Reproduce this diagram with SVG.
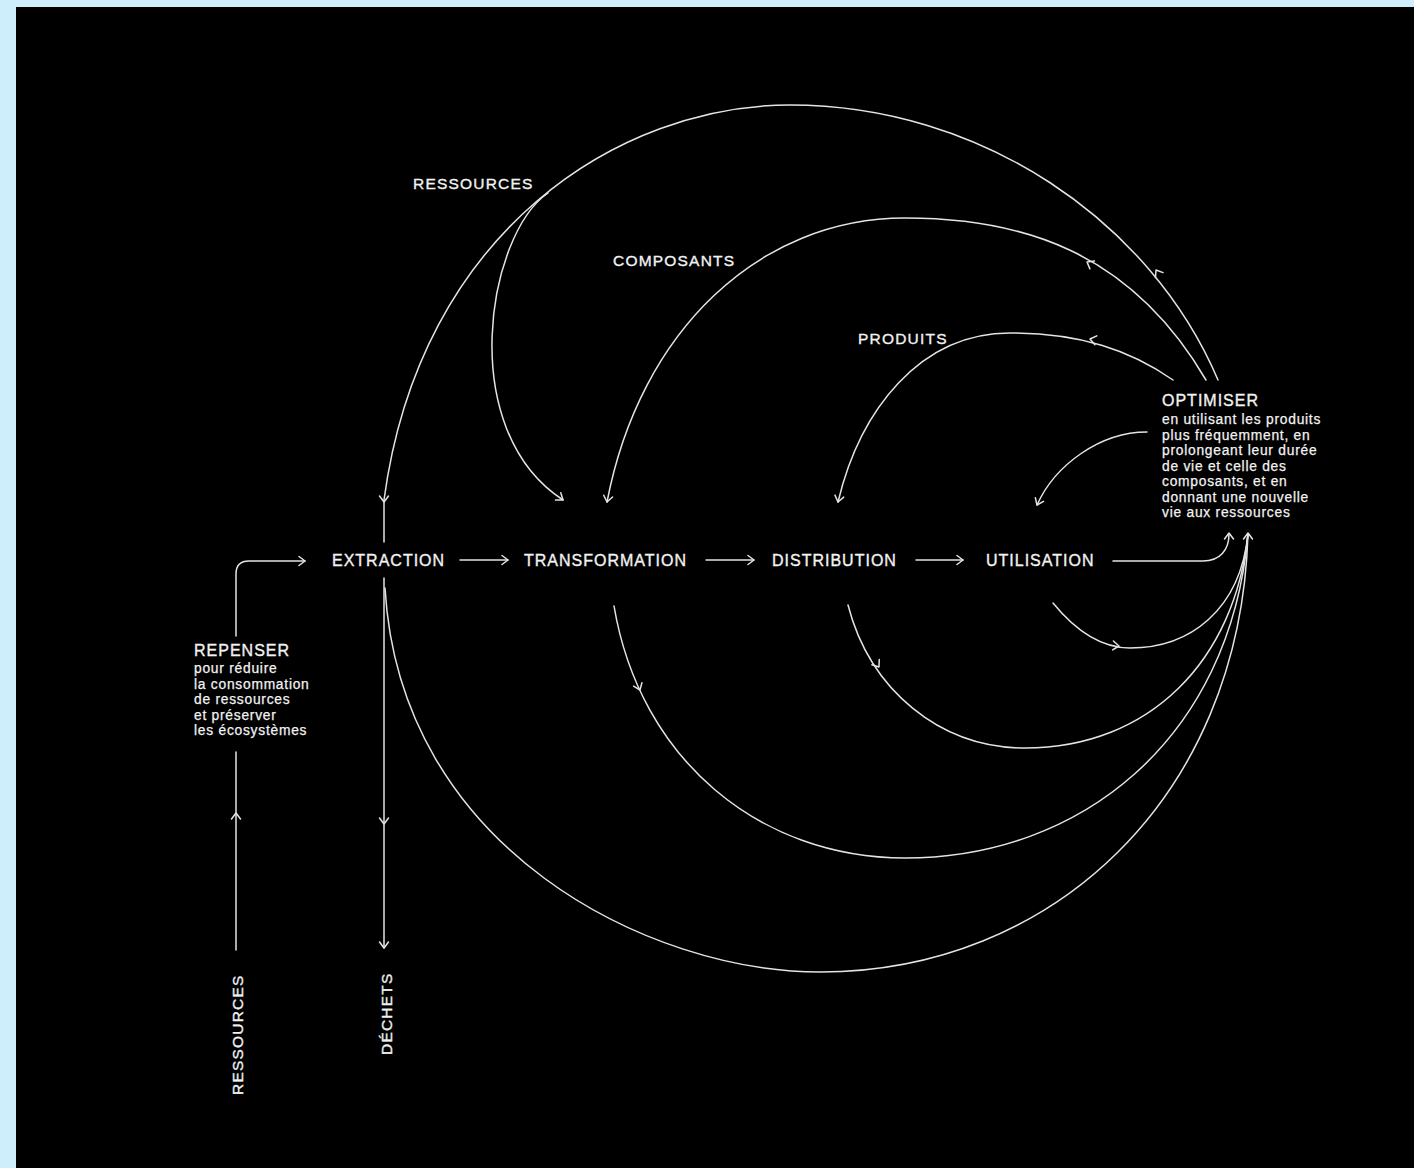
<svg xmlns="http://www.w3.org/2000/svg" xmlns:xlink="http://www.w3.org/1999/xlink" width="1414" height="1168" viewBox="0 0 1414 1168">
<style>
.ln{fill:none;stroke:#e4e4e4;stroke-width:1.5;stroke-linecap:round;stroke-linejoin:round}
.t{font-family:'Liberation Sans',Arial,sans-serif;fill:#f2f2f2;stroke:#f2f2f2;stroke-width:0.35}
.h{font-size:16px;letter-spacing:1px}
.s{font-size:15.5px;letter-spacing:1.2px}
.b{font-size:13.8px;letter-spacing:0.75px;stroke-width:0.25}
</style>
<defs>
<path id="chev" d="M -6 -4.5 L 0 0 L -6 4.5" fill="none" stroke="#e4e4e4" stroke-width="1.5" stroke-linecap="round" stroke-linejoin="round"/>
</defs>
<rect x="0" y="0" width="1414" height="1168" fill="#cdeefa"/>
<rect x="16" y="7" width="1398" height="1161" fill="#000"/>

<g id="connectors" class="ln">
  <path d="M 460 560 L 508 560"/>
  <path d="M 706 560 L 754 560"/>
  <path d="M 916 560 L 963 560"/>
  <path d="M 236 636 L 236 574 Q 236 561 249 561 L 305 561"/>
  <path d="M 236 950 L 236 752"/>
  <path d="M 384 578 L 384 948"/>
  <path d="M 1113 561 L 1203 561 C 1220 561 1229 550 1229 534"/>
  <path d="M 1218 380 C 1150 220 980 105 790 105 C 620 105 420 230 384 500 L 384 542"/>
  <path d="M 548 193 C 487 235 455 430 563 500"/>
  <path d="M 1206 380 C 1130 250 1020 218 905 218 C 760 218 640 330 607 502"/>
  <path d="M 1173 380 C 1130 350 1080 333 1010 333 C 920 333 860 410 838 502"/>
  <path d="M 1147 432 C 1100 432 1055 465 1037 505"/>
  <path d="M 385 588 C 400 850 650 972 820 972 C 1050 972 1240 800 1248 534"/>
  <path d="M 614 606 C 640 760 760 858 905 858 C 1080 858 1230 740 1248 534"/>
  <path d="M 848 605 C 870 690 940 748 1025 748 C 1150 748 1235 660 1248 534"/>
  <path d="M 1053 603 C 1075 630 1100 648 1130 648 C 1190 648 1240 610 1248 534"/>
  <use xlink:href="#chev" transform="translate(508 560)"/>
  <use xlink:href="#chev" transform="translate(754 560)"/>
  <use xlink:href="#chev" transform="translate(963 560)"/>
  <use xlink:href="#chev" transform="translate(305 561)"/>
  <use xlink:href="#chev" transform="translate(236 813) rotate(-90)"/>
  <use xlink:href="#chev" transform="translate(384 824) rotate(90)"/>
  <use xlink:href="#chev" transform="translate(384 948) rotate(90)"/>
  <use xlink:href="#chev" transform="translate(384 502) rotate(90)"/>
  <use xlink:href="#chev" transform="translate(563 500) rotate(36)"/>
  <use xlink:href="#chev" transform="translate(607 502) rotate(101)"/>
  <use xlink:href="#chev" transform="translate(838 502) rotate(103)"/>
  <use xlink:href="#chev" transform="translate(1037 505) rotate(114)"/>
  <use xlink:href="#chev" transform="translate(1156 270) rotate(-123)"/>
  <use xlink:href="#chev" transform="translate(1087 262) rotate(-150)"/>
  <use xlink:href="#chev" transform="translate(1090 339) rotate(-168)"/>
  <use xlink:href="#chev" transform="translate(640 690) rotate(68)"/>
  <use xlink:href="#chev" transform="translate(879 667) rotate(55)"/>
  <use xlink:href="#chev" transform="translate(1119 646) rotate(5)"/>
  <use xlink:href="#chev" transform="translate(1229 533) rotate(-90)"/>
  <use xlink:href="#chev" transform="translate(1248 533) rotate(-90)"/>
</g>

<g id="extraction"><text class="t h" x="332" y="566">EXTRACTION</text></g>
<g id="transformation"><text class="t h" x="524" y="566">TRANSFORMATION</text></g>
<g id="distribution"><text class="t h" x="772" y="566">DISTRIBUTION</text></g>
<g id="utilisation"><text class="t h" x="986" y="566">UTILISATION</text></g>

<g id="label-ressources-top"><text class="t s" x="413" y="189">RESSOURCES</text></g>
<g id="label-composants"><text class="t s" x="613" y="266">COMPOSANTS</text></g>
<g id="label-produits"><text class="t s" x="858" y="344">PRODUITS</text></g>

<g id="optimiser">
  <text class="t h" x="1162" y="406">OPTIMISER</text>
  <text class="t b" x="1162" y="424">en utilisant les produits</text>
  <text class="t b" x="1162" y="439.5">plus fréquemment, en</text>
  <text class="t b" x="1162" y="455">prolongeant leur durée</text>
  <text class="t b" x="1162" y="470.5">de vie et celle des</text>
  <text class="t b" x="1162" y="486">composants, et en</text>
  <text class="t b" x="1162" y="501.5">donnant une nouvelle</text>
  <text class="t b" x="1162" y="517">vie aux ressources</text>
</g>

<g id="repenser">
  <text class="t h" x="194" y="656">REPENSER</text>
  <text class="t b" x="194" y="673">pour réduire</text>
  <text class="t b" x="194" y="688.5">la consommation</text>
  <text class="t b" x="194" y="704">de ressources</text>
  <text class="t b" x="194" y="719.5">et préserver</text>
  <text class="t b" x="194" y="735">les écosystèmes</text>
</g>

<g id="ressources-bottom"><text class="t s" x="243" y="1095" transform="rotate(-90 243 1095)">RESSOURCES</text></g>
<g id="dechets"><text class="t s" x="392" y="1055" transform="rotate(-90 392 1055)">DÉCHETS</text></g>
</svg>
